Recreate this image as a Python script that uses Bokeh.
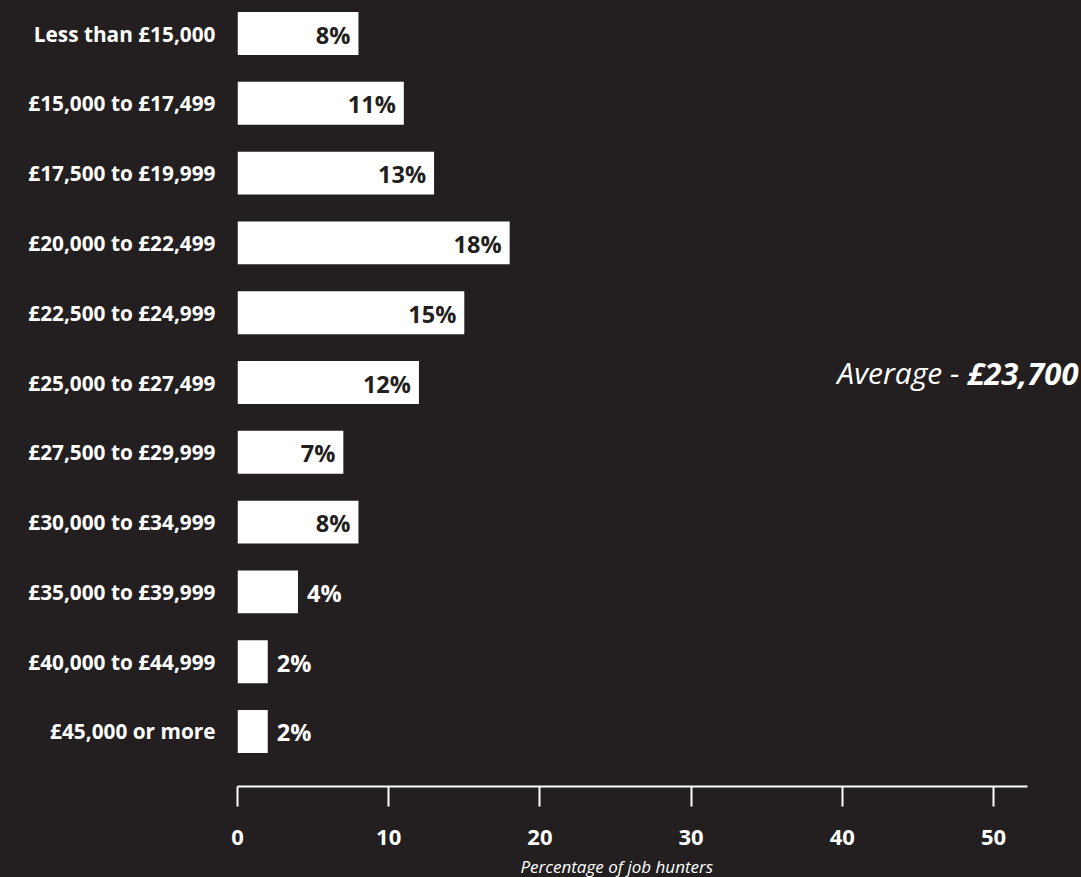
from bokeh.plotting import figure
from bokeh.models import Range1d, FixedTicker, Label, ColumnDataSource, Title
from bokeh.core.properties import value
from bokeh.embed import file_html
from bokeh.resources import INLINE

categories = ["Less than £15,000", "£15,000 to £17,499", "£17,500 to £19,999",
              "£20,000 to £22,499", "£22,500 to £24,999", "£25,000 to £27,499",
              "£27,500 to £29,999", "£30,000 to £34,999", "£35,000 to £39,999",
              "£40,000 to £44,999", "£45,000 or more"]
percentages = [8, 11, 13, 18, 15, 12, 7, 8, 4, 2, 2]
x_ticks = [0, 10, 20, 30, 40, 50]
axis_title = "Percentage of job hunters"
average_prefix = "Average - "
average_value = "£23,700"

BG = "#231f20"
FONT = "Open Sans"

pos = list(range(len(categories)))
labels = [f"{v}%" for v in percentages]

p = figure(frame_width=844, frame_height=786, output_backend="svg", toolbar_location=None,
           x_range=Range1d(0, 55.82), y_range=Range1d(10.788, -0.473),
           min_border_left=237, min_border_right=0, min_border_top=0, min_border_bottom=91,
           background_fill_color=BG, border_fill_color=BG, outline_line_color=None)
p.styles = {"background-color": BG}
p.grid.visible = False

src = ColumnDataSource(dict(y=pos, v=percentages, lab=labels))
p.hbar(y="y", right="v", left=0, height=0.615, source=src, fill_color="white", line_color=None)

inside = [i for i, v in enumerate(percentages) if v >= 5]
outside = [i for i, v in enumerate(percentages) if v < 5]
src_in = ColumnDataSource(dict(y=[pos[i] for i in inside], v=[percentages[i] for i in inside],
                               lab=[labels[i] for i in inside]))
src_out = ColumnDataSource(dict(y=[pos[i] for i in outside], v=[percentages[i] for i in outside],
                                lab=[labels[i] for i in outside]))
p.text(x="v", y="y", text="lab", source=src_in, x_offset=-8, y_offset=1,
       text_align="right", text_baseline="middle", text_color=BG,
       text_font=value(FONT), text_font_style="bold", text_font_size="23.5px")
p.text(x="v", y="y", text="lab", source=src_out, x_offset=9, y_offset=1,
       text_align="left", text_baseline="middle", text_color="white",
       text_font=value(FONT), text_font_style="bold", text_font_size="23.5px")

# x axis
xa = p.xaxis[0]
xa.ticker = FixedTicker(ticks=x_ticks)
xa.bounds = (0, 52.25)
xa.axis_line_color = "white"
xa.axis_line_width = 2
xa.major_tick_line_color = "white"
xa.major_tick_line_width = 2
xa.major_tick_in = 0
xa.major_tick_out = 20
xa.minor_tick_line_color = None
xa.major_label_standoff = 23
xa.major_label_text_color = "white"
xa.major_label_text_font = FONT
xa.major_label_text_font_style = "bold"
xa.major_label_text_font_size = "22px"

# y axis with category labels
ya = p.yaxis[0]
ya.ticker = FixedTicker(ticks=pos)
ya.major_label_overrides = {i: c for i, c in zip(pos, categories)}
ya.axis_line_color = None
ya.major_tick_line_color = None
ya.minor_tick_line_color = None
ya.major_tick_in = 0
ya.major_tick_out = 0
ya.major_label_standoff = 22
ya.major_label_text_color = "white"
ya.major_label_text_font = FONT
ya.major_label_text_font_style = "bold"
ya.major_label_text_font_size = "20.8px"

p.add_layout(Title(text=axis_title, align="left", offset=283, text_color="white",
                   text_font=FONT, text_font_style="italic", text_font_size="17px",
                   standoff=11), "below")
p.add_layout(Label(x=39.67, y=4.86, text=average_prefix, text_align="left", text_baseline="middle",
                   text_color="white", text_font=FONT, text_font_style="italic",
                   text_font_size="30px"))
p.add_layout(Label(x=55.62, y=4.86, text=average_value, text_align="right", text_baseline="middle",
                   text_color="white", text_font=FONT, text_font_style="bold italic",
                   text_font_size="31px"))

open("out.html", "w").write(file_html(p, INLINE))
